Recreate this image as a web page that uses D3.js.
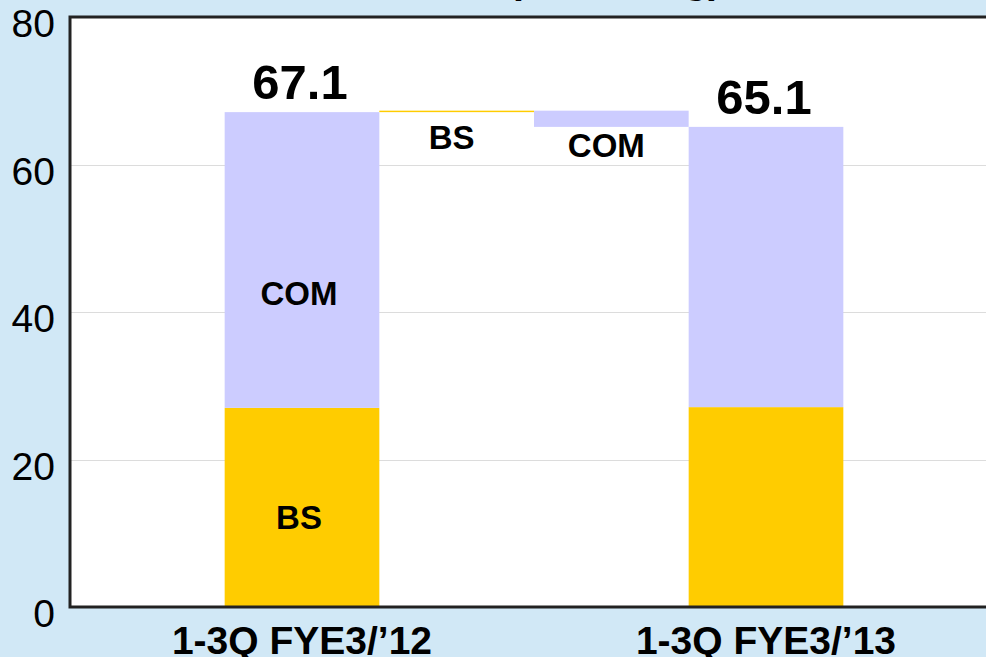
<!DOCTYPE html>
<html>
<head>
<meta charset="utf-8">
<script src="https://cdn.jsdelivr.net/npm/d3@7"></script>
<style>
  html, body { margin: 0; padding: 0; background: #d1e8f6; }
  svg { display: block; font-family: "Liberation Sans", Arial, sans-serif; }
</style>
</head>
<body>
<div id="chart"></div>
<script>
// data
const slots = ["1-3Q FYE3/\u201912", "BS", "COM", "1-3Q FYE3/\u201913"];
const periods = ["1-3Q FYE3/\u201912", "1-3Q FYE3/\u201913"];
const bsValues = [27.0, 27.1];
const comValues = [40.1, 38.0];
const totals = [67.1, 65.1];
const deltaNames = ["BS", "COM"];
const deltaValues = [0.2, -2.2];
const yTicks = [0, 20, 40, 60, 80];
const titleText = "(million kg)";

const width = 986, height = 657;
const colors = {BS: "#ffcc00", COM: "#ccccff"};

const svg = d3.select("#chart").append("svg")
    .attr("width", width)
    .attr("height", height);

const plot = {left: 70, right: 998, top: 17, bottom: 607};

const x = d3.scaleBand()
    .domain(slots)
    .range([plot.left, plot.right])
    .paddingInner(0)
    .paddingOuter(1);

const y = d3.scaleLinear()
    .domain([0, 80])
    .range([plot.bottom, plot.top]);

// title, mostly above the top of the page
svg.append("text")
    .attr("x", 615)
    .attr("y", -7)
    .attr("text-anchor", "middle")
    .attr("font-size", 40)
    .attr("font-weight", "bold")
    .text(titleText);

// plot background
svg.append("rect")
    .attr("x", plot.left)
    .attr("y", plot.top)
    .attr("width", plot.right - plot.left)
    .attr("height", plot.bottom - plot.top)
    .attr("fill", "#fff");

// gridlines
svg.append("g")
  .selectAll("line")
  .data(yTicks.filter(d => d > 0 && d < 80))
  .join("line")
    .attr("x1", plot.left)
    .attr("x2", plot.right)
    .attr("y1", d => Math.round(y(d)) + 0.5)
    .attr("y2", d => Math.round(y(d)) + 0.5)
    .attr("stroke", "#dcdcdc")
    .attr("stroke-width", 1);

// stacked bars for the two periods
const stackRows = periods.map((p, i) => ({period: p, BS: bsValues[i], COM: comValues[i]}));
const series = d3.stack().keys(["BS", "COM"])(stackRows);

svg.append("g")
  .selectAll("g")
  .data(series)
  .join("g")
    .attr("fill", s => colors[s.key])
  .selectAll("rect")
  .data(s => s)
  .join("rect")
    .attr("x", d => x(d.data.period))
    .attr("y", d => y(d[1]))
    .attr("width", x.bandwidth())
    .attr("height", d => y(d[0]) - y(d[1]));

// floating change bars
let running = totals[0];
const deltas = deltaNames.map((name, i) => {
  const start = running;
  running += deltaValues[i];
  return {name, lo: Math.min(start, running), hi: Math.max(start, running)};
});

svg.append("g")
  .selectAll("rect")
  .data(deltas)
  .join("rect")
    .attr("x", d => x(d.name))
    .attr("y", d => y(d.hi))
    .attr("width", x.bandwidth())
    .attr("height", d => y(d.lo) - y(d.hi))
    .attr("fill", d => colors[d.name]);

// labels on the change bars
const deltaOffset = {BS: 37, COM: 30};
svg.append("g")
  .selectAll("text")
  .data(deltas)
  .join("text")
    .attr("x", d => x(d.name) + x.bandwidth() / 2 - 5)
    .attr("y", d => y(d.lo) + deltaOffset[d.name])
    .attr("text-anchor", "middle")
    .attr("font-size", 33)
    .attr("font-weight", "bold")
    .text(d => d.name);

// segment labels in the first bar
const segOffset = {BS: 22, COM: 45};
svg.append("g")
  .selectAll("text")
  .data(series.map(s => ({key: s.key, d: s[0]})))
  .join("text")
    .attr("x", d => x(d.d.data.period) + x.bandwidth() / 2 - 3)
    .attr("y", d => y((d.d[0] + d.d[1]) / 2) + segOffset[d.key])
    .attr("text-anchor", "middle")
    .attr("font-size", 33)
    .attr("font-weight", "bold")
    .text(d => d.key);

// totals above the bars
svg.append("g")
  .selectAll("text")
  .data(periods)
  .join("text")
    .attr("x", (p, i) => x(p) + x.bandwidth() / 2 - 2)
    .attr("y", (p, i) => y(totals[i]) - 13)
    .attr("text-anchor", "middle")
    .attr("font-size", 49)
    .attr("font-weight", "bold")
    .text((p, i) => totals[i].toFixed(1));

// frame: left, top, bottom
svg.append("path")
    .attr("d", `M${plot.right},${plot.top}H${plot.left}V${plot.bottom}H${plot.right}`)
    .attr("fill", "none")
    .attr("stroke", "#222")
    .attr("stroke-width", 3);

// y axis labels
svg.append("g")
  .selectAll("text")
  .data(yTicks)
  .join("text")
    .attr("x", 55)
    .attr("y", d => y(d) + 20)
    .attr("text-anchor", "end")
    .attr("font-size", 39)
    .text(d => d);

// category labels
svg.append("g")
  .selectAll("text")
  .data(periods)
  .join("text")
    .attr("x", p => x(p) + x.bandwidth() / 2)
    .attr("y", 654)
    .attr("text-anchor", "middle")
    .attr("font-size", 39)
    .attr("font-weight", "bold")
    .text(p => p);
</script>
</body>
</html>
